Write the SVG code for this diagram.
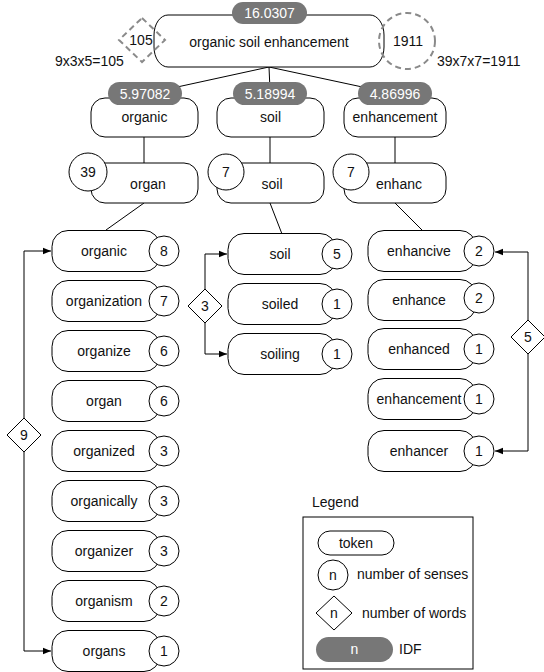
<svg xmlns="http://www.w3.org/2000/svg" width="544" height="672" viewBox="0 0 544 672">
<style>
text{font-family:"Liberation Sans",Arial,Helvetica,sans-serif;font-size:14px;fill:#111;}
.c{text-anchor:middle;}
.w{fill:#fff;text-anchor:middle;}
.box{fill:#fff;stroke:#000;stroke-width:1;}
.pill{fill:#777;stroke:none;}
.dash{fill:none;stroke:#8a8a8a;stroke-width:2;stroke-dasharray:6,4;}
.ln{fill:none;stroke:#000;stroke-width:1;}
</style>
<defs>
<marker id="arr" viewBox="0 0 10 10" refX="10" refY="5" markerWidth="8" markerHeight="8" markerUnits="userSpaceOnUse" orient="auto">
<path d="M0,1 L10,5 L0,9 Z" fill="#000"/>
</marker>
</defs>
<rect width="544" height="672" fill="#fff"/>

<g id="connectors">
<line class="ln" x1="269" y1="67" x2="145" y2="94"/>
<line class="ln" x1="269" y1="67" x2="270" y2="90"/>
<line class="ln" x1="269" y1="67" x2="395" y2="94"/>
<line class="ln" x1="144" y1="137" x2="144" y2="163"/>
<line class="ln" x1="270" y1="137" x2="270" y2="163"/>
<line class="ln" x1="395" y1="137" x2="395" y2="163"/>
<line class="ln" x1="144" y1="203" x2="106" y2="230"/>
<line class="ln" x1="270" y1="203" x2="282" y2="234"/>
<line class="ln" x1="395" y1="203" x2="422" y2="230"/>
<path class="ln" d="M24,418 V251 H51" marker-end="url(#arr)"/>
<path class="ln" d="M24,452 V651 H51" marker-end="url(#arr)"/>
<path class="ln" d="M205,289 V254 H227" marker-end="url(#arr)"/>
<path class="ln" d="M205,323 V354 H227" marker-end="url(#arr)"/>
<path class="ln" d="M528,320 V252 H495" marker-end="url(#arr)"/>
<path class="ln" d="M528,354 V451 H495" marker-end="url(#arr)"/>
</g>

<g id="query">
<rect class="box" x="154" y="15" width="230" height="52" rx="14" ry="20"/>
<text class="c" x="269" y="47">organic soil enhancement</text>
<rect class="pill" x="232" y="2" width="75" height="22" rx="11"/>
<text class="w" x="269.5" y="18">16.0307</text>
</g>
<g id="words-product">
<polygon class="dash" points="142,18 165,40 142,62 119,40"/>
<text class="c" x="141" y="45">105</text>
<text x="55" y="66">9x3x5=105</text>
</g>
<g id="senses-product">
<circle class="dash" cx="407" cy="41" r="28"/>
<text class="c" x="408" y="46">1911</text>
<text x="437" y="66">39x7x7=1911</text>
</g>

<g id="term-organic">
<rect class="box" x="91" y="98" width="107" height="39" rx="14"/>
<rect class="pill" x="108" y="82" width="74" height="23" rx="11.5"/>
<text class="w" x="145" y="99">5.97082</text>
<text class="c" x="144.5" y="122">organic</text>
</g>
<g id="term-soil">
<rect class="box" x="217" y="98" width="107" height="39" rx="14"/>
<rect class="pill" x="233" y="82" width="74" height="23" rx="11.5"/>
<text class="w" x="270" y="99">5.18994</text>
<text class="c" x="270.5" y="122">soil</text>
</g>
<g id="term-enhancement">
<rect class="box" x="344" y="98" width="102" height="39" rx="14"/>
<rect class="pill" x="358" y="82" width="74" height="23" rx="11.5"/>
<text class="w" x="395" y="99">4.86996</text>
<text class="c" x="395" y="122">enhancement</text>
</g>

<g id="stem-organ">
<rect class="box" x="91" y="163" width="107" height="40" rx="14"/>
<text class="c" x="148" y="189">organ</text>
<circle class="box" cx="88" cy="172" r="19"/>
<text class="c" x="88" y="177">39</text>
</g>
<g id="stem-soil">
<rect class="box" x="217" y="163" width="107" height="40" rx="14"/>
<text class="c" x="272" y="189">soil</text>
<circle class="box" cx="226" cy="172" r="18"/>
<text class="c" x="226" y="177">7</text>
</g>
<g id="stem-enhanc">
<rect class="box" x="344" y="163" width="102" height="40" rx="14"/>
<text class="c" x="399" y="189">enhanc</text>
<circle class="box" cx="351" cy="172" r="18"/>
<text class="c" x="351" y="177">7</text>
</g>

<g id="w-organic"><rect class="box" x="52" y="230.5" width="108" height="41" rx="16"/><text class="c" x="104" y="256">organic</text><circle class="box" cx="164" cy="251" r="15"/><text class="c" x="164" y="256">8</text></g>
<g id="w-organization"><rect class="box" x="52" y="280.5" width="108" height="41" rx="16"/><text class="c" x="104" y="306">organization</text><circle class="box" cx="164" cy="301" r="15"/><text class="c" x="164" y="306">7</text></g>
<g id="w-organize"><rect class="box" x="52" y="330.5" width="108" height="41" rx="16"/><text class="c" x="104" y="356">organize</text><circle class="box" cx="164" cy="351" r="15"/><text class="c" x="164" y="356">6</text></g>
<g id="w-organ"><rect class="box" x="52" y="380.5" width="108" height="41" rx="16"/><text class="c" x="104" y="406">organ</text><circle class="box" cx="164" cy="401" r="15"/><text class="c" x="164" y="406">6</text></g>
<g id="w-organized"><rect class="box" x="52" y="430.5" width="108" height="41" rx="16"/><text class="c" x="104" y="456">organized</text><circle class="box" cx="164" cy="451" r="15"/><text class="c" x="164" y="456">3</text></g>
<g id="w-organically"><rect class="box" x="52" y="480.5" width="108" height="41" rx="16"/><text class="c" x="104" y="506">organically</text><circle class="box" cx="164" cy="501" r="15"/><text class="c" x="164" y="506">3</text></g>
<g id="w-organizer"><rect class="box" x="52" y="530.5" width="108" height="41" rx="16"/><text class="c" x="104" y="556">organizer</text><circle class="box" cx="164" cy="551" r="15"/><text class="c" x="164" y="556">3</text></g>
<g id="w-organism"><rect class="box" x="52" y="580.5" width="108" height="41" rx="16"/><text class="c" x="104" y="606">organism</text><circle class="box" cx="164" cy="601" r="15"/><text class="c" x="164" y="606">2</text></g>
<g id="w-organs"><rect class="box" x="52" y="630.5" width="108" height="41" rx="16"/><text class="c" x="104" y="656">organs</text><circle class="box" cx="164" cy="651" r="15"/><text class="c" x="164" y="656">1</text></g>

<g id="d-organ"><polygon class="box" points="24,418 41,435 24,452 7,435"/><text class="c" x="24" y="440">9</text></g>

<g id="w-soil"><rect class="box" x="228" y="233.5" width="108" height="41" rx="16"/><text class="c" x="280" y="259">soil</text><circle class="box" cx="337" cy="254" r="15"/><text class="c" x="337" y="259">5</text></g>
<g id="w-soiled"><rect class="box" x="228" y="283.5" width="108" height="41" rx="16"/><text class="c" x="280" y="309">soiled</text><circle class="box" cx="337" cy="304" r="15"/><text class="c" x="337" y="309">1</text></g>
<g id="w-soiling"><rect class="box" x="228" y="333.5" width="108" height="41" rx="16"/><text class="c" x="280" y="359">soiling</text><circle class="box" cx="337" cy="354" r="15"/><text class="c" x="337" y="359">1</text></g>

<g id="d-soil"><polygon class="box" points="205,289 222,306 205,323 188,306"/><text class="c" x="205" y="311">3</text></g>

<g id="w-enhancive"><rect class="box" x="368" y="230.5" width="108" height="41" rx="16"/><text class="c" x="419" y="256">enhancive</text><circle class="box" cx="479" cy="251" r="15"/><text class="c" x="479" y="256">2</text></g>
<g id="w-enhance"><rect class="box" x="368" y="279.5" width="108" height="41" rx="16"/><text class="c" x="419" y="305">enhance</text><circle class="box" cx="479" cy="298" r="15"/><text class="c" x="479" y="303">2</text></g>
<g id="w-enhanced"><rect class="box" x="368" y="328.5" width="108" height="41" rx="16"/><text class="c" x="419" y="354">enhanced</text><circle class="box" cx="479" cy="349" r="15"/><text class="c" x="479" y="354">1</text></g>
<g id="w-enhancement"><rect class="box" x="368" y="378.5" width="108" height="41" rx="16"/><text class="c" x="419" y="404">enhancement</text><circle class="box" cx="479" cy="399" r="15"/><text class="c" x="479" y="404">1</text></g>
<g id="w-enhancer"><rect class="box" x="368" y="430.5" width="108" height="41" rx="16"/><text class="c" x="419" y="456">enhancer</text><circle class="box" cx="479" cy="451" r="15"/><text class="c" x="479" y="456">1</text></g>

<g id="d-enhanc"><polygon class="box" points="528,320 545,337 528,354 511,337"/><text class="c" x="528" y="342">5</text></g>

<g id="legend">
<text x="312" y="507">Legend</text>
<rect class="box" x="303" y="517" width="170" height="152"/>
<rect class="box" x="318" y="531" width="76" height="24" rx="12"/>
<text class="c" x="356" y="548">token</text>
<circle class="box" cx="333" cy="575" r="15"/>
<text class="c" x="333" y="580">n</text>
<text x="357" y="579">number of senses</text>
<polygon class="box" points="334,596 352,613 334,630 316,613"/>
<text class="c" x="334" y="618">n</text>
<text x="362" y="618">number of words</text>
<rect class="pill" x="316" y="637" width="77" height="25" rx="12.5"/>
<text class="w" x="354.5" y="654">n</text>
<text x="399" y="654">IDF</text>
</g>
</svg>
